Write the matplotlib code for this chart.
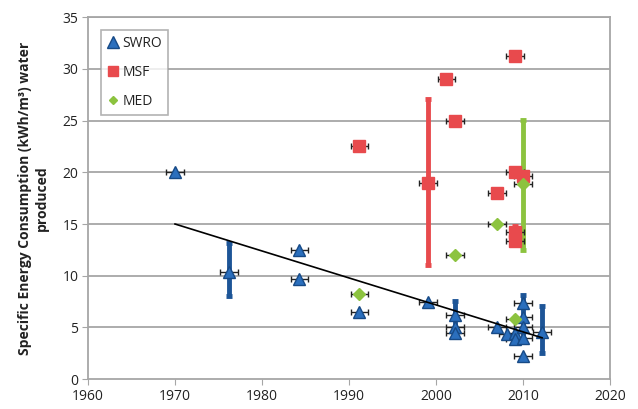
import matplotlib
matplotlib.use("Agg")
import matplotlib.pyplot as plt
from matplotlib.lines import Line2D
import numpy as np

# ---------------- data ----------------
swro_year = [1970, 1976.2, 1984.3, 1984.3, 1991.2, 1999.1, 2002.2, 2002.2, 2002.2,
             2007, 2008.2, 2009.1, 2009.1, 2010, 2010, 2010, 2010, 2010, 2012.2]
swro_sec = [20.0, 10.4, 12.5, 9.7, 6.5, 7.5, 6.2, 5.0, 4.5,
            5.0, 4.4, 4.5, 3.9, 7.4, 6.0, 5.0, 4.0, 2.2, 4.6]
swro_yerr_lo = [0, 2.4, 0, 0, 0, 0, 2.1, 0, 0, 0, 0, 0, 0, 0, 2.1, 0, 0, 0, 2.1]
swro_yerr_hi = [0, 2.8, 0, 0, 0, 0, 1.4, 0, 0, 0, 0, 0, 0, 0, 2.1, 0, 0, 0, 2.5]

msf_year = [1991.2, 1999.1, 2001.2, 2002.2, 2007, 2009.1, 2009.1, 2009.1, 2009.1, 2010]
msf_sec = [22.5, 19.0, 29.0, 25.0, 18.0, 31.2, 20.0, 14.2, 13.4, 19.6]
msf_yerr_lo = [0, 8.0, 0, 0, 0, 0, 0, 1.2, 0, 0]
msf_yerr_hi = [0, 8.1, 0, 0, 0, 0, 0, 0.6, 0, 0]

med_year = [1991.2, 2002.2, 2007, 2009.1, 2010]
med_sec = [8.2, 12.0, 15.0, 5.8, 18.9]
med_yerr_lo = [0, 0, 0, 0, 6.4]
med_yerr_hi = [0, 0, 0, 0, 6.2]

x_err = 1.0

trend_year = [1970, 2012.2]
trend_sec = [15.0, 4.0]

x_ticks = [1960, 1970, 1980, 1990, 2000, 2010, 2020]
y_ticks = [0, 5, 10, 15, 20, 25, 30, 35]

# ---------------- style ----------------
plt.rcParams['font.family'] = ['Open Sans', 'DejaVu Sans']

fig = plt.figure(figsize=(6.38, 4.09), dpi=100)
ax = fig.add_axes([0.138, 0.073, 0.818, 0.885])

grid_c = '#a6a6a6'
for v in y_ticks[1:]:
    ax.axhline(v, color=grid_c, lw=1.3, zorder=0)

series = [
    (swro_year, swro_sec, swro_yerr_lo, swro_yerr_hi, '^', '#2b6fbd', '#174a86', '#1d5597', 9),
    (msf_year, msf_sec, msf_yerr_lo, msf_yerr_hi, 's', '#e84a4d', '#e84a4d', '#e84a4d', 8),
    (med_year, med_sec, med_yerr_lo, med_yerr_hi, 'D', '#8cc33f', '#8cc33f', '#8cc33f', 6.5),
]

for yr, val, lo, hi, mk, fc, ec, barc, ms in series:
    yr = np.asarray(yr); val = np.asarray(val)
    lo = np.asarray(lo); hi = np.asarray(hi)
    m = (lo > 0) | (hi > 0)
    if m.any():
        ax.errorbar(yr[m], val[m], yerr=[lo[m], hi[m]], fmt='none', ecolor=barc,
                    elinewidth=3.5, capsize=2, capthick=3.5, zorder=2)
    ax.errorbar(yr, val, xerr=x_err, fmt='none', ecolor='#222222',
                elinewidth=1.0, capsize=2.5, capthick=1.0, zorder=3)
    ax.plot(yr, val, linestyle='none', marker=mk, markersize=ms,
            markerfacecolor=fc, markeredgecolor=ec, markeredgewidth=1.0, zorder=4)

ax.plot(trend_year, trend_sec, color='black', lw=1.2, zorder=5)

ax.set_xlim(1960, 2020)
ax.set_ylim(0, 35)
ax.set_xticks(x_ticks)
ax.set_yticks(y_ticks)
ax.tick_params(axis='both', direction='out', length=4, color=grid_c,
               labelsize=10, labelcolor='#222222', pad=3)
for s in ax.spines.values():
    s.set_color(grid_c)
    s.set_linewidth(1.3)

ax.set_ylabel('Specific Energy Consumption (kWh/m³) water\nproduced',
              fontsize=10, fontweight='bold', color='#222222', labelpad=10,
              multialignment='center')

handles = [
    Line2D([], [], linestyle='none', marker='^', markersize=8,
           markerfacecolor='#2b6fbd', markeredgecolor='#174a86', label='SWRO'),
    Line2D([], [], linestyle='none', marker='s', markersize=7,
           markerfacecolor='#e84a4d', markeredgecolor='#e84a4d', label='MSF'),
    Line2D([], [], linestyle='none', marker='D', markersize=4.5,
           markerfacecolor='#8cc33f', markeredgecolor='#8cc33f', label='MED'),
]
leg = ax.legend(handles=handles, loc='upper left', bbox_to_anchor=(0.025, 0.965),
                frameon=True, fancybox=False, edgecolor='#a0a0a0', fontsize=10,
                handlelength=0.8, handletextpad=0.3, labelspacing=1.0,
                borderpad=0.45, borderaxespad=0)
leg.get_frame().set_linewidth(1.2)
for t in leg.get_texts():
    t.set_color('#222222')

fig.savefig('out.png', dpi=100)
